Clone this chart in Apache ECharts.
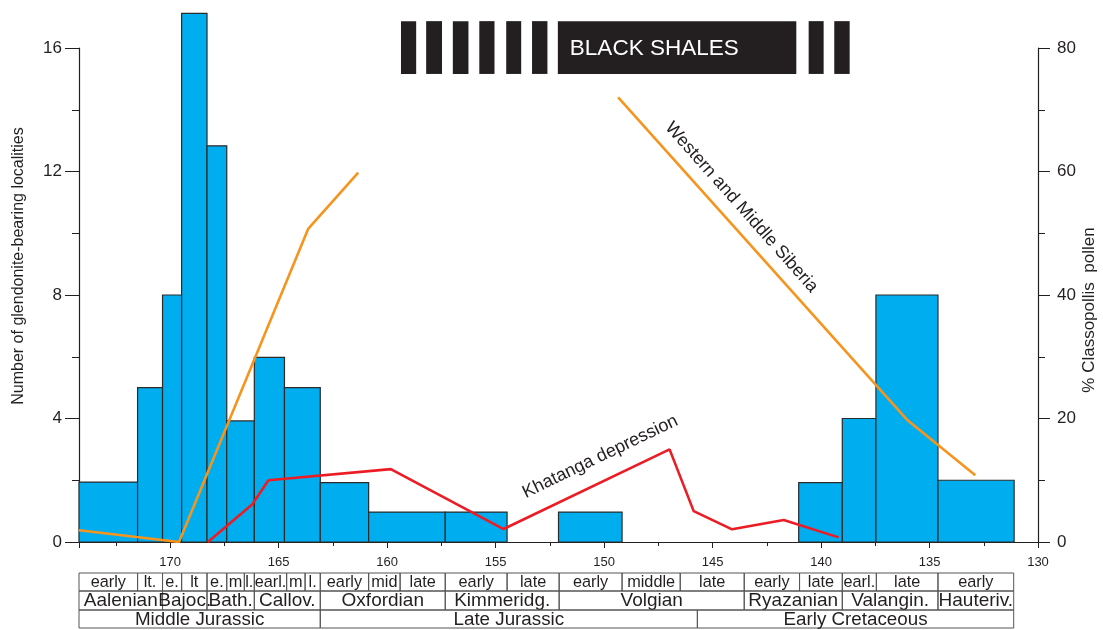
<!DOCTYPE html>
<html>
<head>
<meta charset="utf-8">
<script src="https://cdn.jsdelivr.net/npm/echarts@6/dist/echarts.min.js"></script>
<style>
  html, body { margin: 0; padding: 0; background: #fff; }
  #chart { width: 1103px; height: 630px; }
</style>
</head>
<body>
<div id="chart"></div>
<script>
// Glendonite-bearing localities per interval: [older edge (Ma), younger edge (Ma), count]
const glendoniteBins = [
  [174.2, 171.5, 1.94],
  [171.5, 170.35, 5],
  [170.35, 169.47, 8],
  [169.47, 168.3, 17.12],
  [168.3, 167.39, 12.83],
  [167.39, 166.12, 3.92],
  [166.12, 164.73, 5.98],
  [164.73, 163.08, 5],
  [163.08, 160.85, 1.92],
  [160.85, 157.32, 0.97],
  [157.32, 154.47, 0.97],
  [152.1, 149.17, 0.97],
  [141.03, 139.02, 1.92],
  [139.02, 137.47, 4],
  [137.47, 134.61, 8],
  [134.61, 131.1, 2]
];

// % Classopollis pollen: [age (Ma), percent]
const classopollisEarly = [[174.2, 1.9], [169.59, 0], [163.64, 50.7], [161.33, 59.8]];
const classopollisSiberia = [[149.35, 72], [136.04, 19.8], [132.89, 10.8]];
const classopollisKhatanga = [
  [168.26, 0], [166.21, 6.1], [165.47, 10], [159.83, 11.8], [154.63, 2.1],
  [146.98, 15], [145.87, 5], [144.1, 2.05], [141.72, 3.55], [139.19, 0.75]
];

// Black shale intervals: [older edge (Ma), younger edge (Ma)]
const blackShales = [
  [159.36, 158.66], [158.2, 157.47], [156.97, 156.25], [155.75, 155.05],
  [154.51, 153.82], [153.32, 152.61], [152.13, 141.14], [140.57, 139.88], [139.39, 138.68]
];

// Stratigraphic scale: [older edge (Ma), younger edge (Ma), name]
const substages = [
  [174.2, 171.5, 'early'], [171.5, 170.35, 'lt.'], [170.35, 169.47, 'e.'], [169.47, 168.3, 'lt'],
  [168.3, 167.39, 'e.'], [167.39, 166.58, 'm'], [166.58, 166.12, 'l.'], [166.12, 164.63, 'earl.'],
  [164.63, 163.78, 'm'], [163.78, 163.08, 'l.'], [163.08, 160.85, 'early'], [160.85, 159.4, 'mid'],
  [159.4, 157.32, 'late'], [157.32, 154.47, 'early'], [154.47, 152.07, 'late'], [152.07, 149.17, 'early'],
  [149.17, 146.49, 'middle'], [146.49, 143.54, 'late'], [143.54, 140.99, 'early'], [140.99, 139.02, 'late'],
  [139.02, 137.45, 'earl.'], [137.45, 134.61, 'late'], [134.61, 131.12, 'early']
];
const stages = [
  [174.2, 170.35, 'Aalenian'], [170.35, 168.3, 'Bajoc.'], [168.3, 166.12, 'Bath.'],
  [166.12, 163.08, 'Callov.'], [163.08, 157.32, 'Oxfordian'], [157.32, 152.07, 'Kimmeridg.'],
  [152.07, 143.54, 'Volgian'], [143.54, 139.02, 'Ryazanian'], [139.02, 134.61, 'Valangin.'],
  [134.61, 131.12, 'Hauteriv.']
];
const epochs = [
  [174.2, 163.08, 'Middle Jurassic'], [163.08, 145.7, 'Late Jurassic'], [145.7, 131.12, 'Early Cretaceous']
];

const axisTicks = { ageMin: 130, ageMax: 174.2, ageStep: 5, countMax: 16, countStep: 4, pctMax: 80, pctStep: 20 };

const INK = '#231F20';
const FONT = '"Liberation Sans", Arial, sans-serif';

// table rows: offset below the x axis line and height, in px
const tableRows = [
  { top: 31, height: 18, fontSize: 16.3 },
  { top: 49, height: 19, fontSize: 19 },
  { top: 68, height: 18, fontSize: 18.8 }
];
const tableCells = []
  .concat(substages.map(d => [d[0], d[1], 0, d[2]]))
  .concat(stages.map(d => [d[0], d[1], 1, d[2]]))
  .concat(epochs.map(d => [d[0], d[1], 2, d[2]]));

const chart = echarts.init(document.getElementById('chart'), null, { renderer: 'canvas' });

const tickLine = { color: INK, width: 1 };

const option = {
  animation: false,
  backgroundColor: '#fff',
  grid: { left: 79, right: 65, top: 48, bottom: 88 },
  xAxis: {
    type: 'value',
    min: axisTicks.ageMin,
    max: axisTicks.ageMax,
    interval: axisTicks.ageStep,
    inverse: true,
    axisLine: { show: true, lineStyle: { color: INK, width: 1.2 } },
    axisTick: { show: true, length: 6, lineStyle: tickLine },
    minorTick: { show: true, splitNumber: 2, length: 4, lineStyle: tickLine },
    splitLine: { show: false },
    minorSplitLine: { show: false },
    axisLabel: {
      margin: 14, fontSize: 13, color: INK, fontFamily: FONT,
      formatter: v => (Math.abs(v / 5 - Math.round(v / 5)) < 1e-6 ? String(v) : '')
    }
  },
  yAxis: [
    {
      type: 'value', min: 0, max: axisTicks.countMax, interval: axisTicks.countStep,
      axisLine: { show: true, lineStyle: { color: INK, width: 1.2 } },
      axisTick: { show: true, length: 14, lineStyle: tickLine },
      minorTick: { show: true, splitNumber: 2, length: 7, lineStyle: tickLine },
      splitLine: { show: false },
      axisLabel: { margin: 17, fontSize: 17, color: INK, fontFamily: FONT }
    },
    {
      type: 'value', min: 0, max: axisTicks.pctMax, interval: axisTicks.pctStep, position: 'right',
      axisLine: { show: true, lineStyle: { color: INK, width: 1.2 } },
      axisTick: { show: true, length: 12, lineStyle: tickLine },
      minorTick: { show: true, splitNumber: 2, length: 7, lineStyle: tickLine },
      splitLine: { show: false },
      axisLabel: { margin: 19, fontSize: 17, color: INK, fontFamily: FONT }
    }
  ],
  graphic: [
    {
      type: 'text', x: 19, y: 266, rotation: Math.PI / 2,
      style: { text: 'Number of glendonite-bearing localities', align: 'center', verticalAlign: 'middle',
               fontSize: 16, fontFamily: FONT, fill: INK }
    },
    {
      type: 'text', x: 1089, y: 310, rotation: Math.PI / 2,
      style: { text: '% Classopollis  pollen', align: 'center', verticalAlign: 'middle',
               fontSize: 17, fontFamily: FONT, fill: INK }
    }
  ],
  series: [
    {
      // variable-width histogram of glendonite localities
      name: 'glendonites',
      type: 'custom',
      coordinateSystem: 'cartesian2d',
      xAxisIndex: 0, yAxisIndex: 0,
      clip: false, silent: true, z: 2,
      data: glendoniteBins,
      encode: { x: [0, 1], y: 2 },
      renderItem(params, api) {
        const a = api.coord([api.value(0), api.value(2)]);
        const b = api.coord([api.value(1), 0]);
        return {
          type: 'rect',
          shape: { x: a[0], y: a[1], width: b[0] - a[0], height: b[1] - a[1] },
          style: { fill: '#00AEEF', stroke: '#2B2B2B', lineWidth: 1.2 }
        };
      }
    },
    {
      name: 'Classopollis (Middle Jurassic)',
      type: 'line', yAxisIndex: 1, silent: true, z: 4,
      data: classopollisEarly, showSymbol: false, symbol: 'none',
      lineStyle: { color: '#F7941D', width: 2.6 }
    },
    {
      name: 'Western and Middle Siberia',
      type: 'line', yAxisIndex: 1, silent: true, z: 4,
      data: classopollisSiberia, showSymbol: false, symbol: 'none',
      lineStyle: { color: '#F7941D', width: 2.6 }
    },
    {
      name: 'Khatanga depression',
      type: 'line', yAxisIndex: 1, silent: true, z: 4,
      data: classopollisKhatanga, showSymbol: false, symbol: 'none',
      lineStyle: { color: '#ED1C24', width: 2.6 }
    },
    {
      // black shale bar along the top
      name: 'black shales',
      type: 'custom',
      coordinateSystem: 'cartesian2d',
      xAxisIndex: 0, yAxisIndex: 0,
      clip: false, silent: true, z: 3,
      data: blackShales,
      encode: { x: [0, 1] },
      renderItem(params, api) {
        const a = api.coord([api.value(0), 16.87]);
        const b = api.coord([api.value(1), 15.16]);
        const children = [{
          type: 'rect',
          shape: { x: a[0], y: a[1], width: b[0] - a[0], height: b[1] - a[1] },
          style: { fill: INK }
        }];
        const widest = blackShales.reduce((m, d, i) => (d[0] - d[1] > blackShales[m][0] - blackShales[m][1] ? i : m), 0);
        if (params.dataIndex === widest) {
          children.push({
            type: 'text',
            style: { text: 'BLACK SHALES', x: a[0] + 12, y: (a[1] + b[1]) / 2 + 1, align: 'left', verticalAlign: 'middle',
                     fontSize: 22.5, fontFamily: FONT, fill: '#fff' }
          });
        }
        return { type: 'group', children };
      }
    },
    {
      // stratigraphic scale under the age axis
      name: 'stratigraphy',
      type: 'custom',
      coordinateSystem: 'cartesian2d',
      xAxisIndex: 0, yAxisIndex: 0,
      clip: false, silent: true, z: 1,
      data: tableCells.map(d => [d[0], d[1], d[2]]),
      encode: { x: [0, 1] },
      renderItem(params, api) {
        const cell = tableCells[params.dataIndex];
        const a = api.coord([cell[0], 0]);
        const b = api.coord([cell[1], 0]);
        const row = tableRows[cell[2]];
        const top = a[1] + row.top;
        return {
          type: 'group',
          children: [
            {
              type: 'rect',
              shape: { x: a[0], y: top, width: b[0] - a[0], height: row.height },
              style: { fill: 'none', stroke: '#555', lineWidth: 1 }
            },
            {
              type: 'text',
              style: { text: cell[3], x: (a[0] + b[0]) / 2, y: top + row.height / 2 + 0.5,
                       align: 'center', verticalAlign: 'middle',
                       fontSize: row.fontSize, fontFamily: FONT, fill: INK }
            }
          ]
        };
      }
    },
    {
      // curve labels set along their lines
      name: 'curve labels',
      type: 'custom',
      coordinateSystem: 'cartesian2d',
      xAxisIndex: 0, yAxisIndex: 1,
      clip: false, silent: true, z: 5,
      data: [[150.18, 13.8], [143.67, 54.2]],
      renderItem(params, api) {
        const labels = [
          { text: 'Khatanga depression', angle: 25.7 },
          { text: 'Western and Middle Siberia', angle: -48.5 }
        ];
        const p = api.coord([api.value(0), api.value(1)]);
        const l = labels[params.dataIndex];
        return {
          type: 'text',
          x: p[0], y: p[1],
          rotation: l.angle * Math.PI / 180,
          style: { text: l.text, x: 0, y: 0, align: 'center', verticalAlign: 'middle',
                   fontSize: 18, fontFamily: FONT, fill: INK }
        };
      }
    }
  ]
};

chart.setOption(option);
</script>
</body>
</html>
